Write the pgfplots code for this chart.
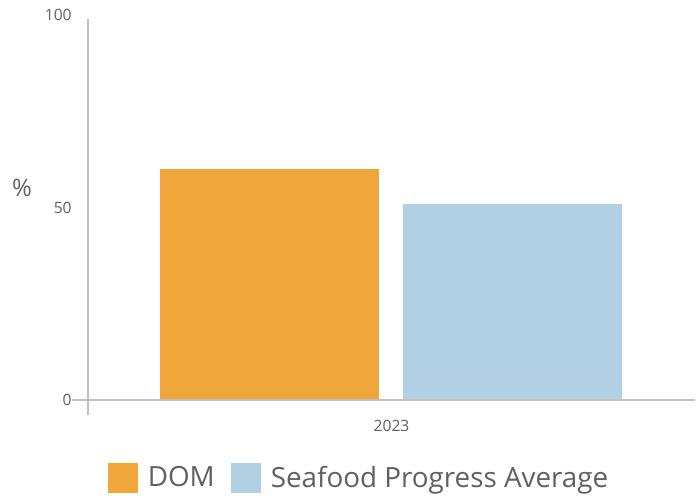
\documentclass[border=0pt]{standalone}
\usepackage{pgfplots}
\pgfplotsset{compat=1.18}
\usepackage{fontspec}
\setmainfont{Open Sans}
\definecolor{domc}{HTML}{F0A63A}
\definecolor{seac}{HTML}{B3D1E5}
\definecolor{tickc}{HTML}{606060}
\definecolor{linec}{HTML}{C0C0C0}
\begin{document}
\begin{tikzpicture}
\useasboundingbox (-44pt,-50pt) rectangle (305pt,200pt);
\begin{axis}[
  at={(0pt,0pt)}, anchor=south west,
  scale only axis, width=303.5pt, height=192.5pt,
  xmin=-1, xmax=1, ymin=0, ymax=100,
  ybar=12pt, bar width=109.5pt,
  axis line style={draw=none}, clip=false,
  xtick={0}, xticklabels={2023},
  ytick={0,50,100},
  major tick length=0pt,
  tick label style={font=\fontsize{7.8}{8}\selectfont, text=tickc},
  yticklabel style={anchor=east, inner sep=0pt, xshift=-8pt},
  xticklabel style={anchor=north, inner sep=0pt, yshift=-10pt},
  /pgf/number format/assume math mode=true,
  legend style={at={(137.5pt,-39pt)}, anchor=center, draw=none, fill=none,
    legend columns=2, font=\fontsize{13.9}{16}\selectfont, text=tickc,
    /tikz/every even column/.append style={column sep=3pt},
    nodes={inner xsep=5pt},
    inner sep=0pt},
  legend image code/.code={\fill[#1,draw=none] (0pt,-7.5pt) rectangle (15pt,7.5pt);},
  legend cell align=left,
]
\addplot[fill=domc, draw=none] coordinates {(0,60)};
\addplot[fill=seac, draw=none] coordinates {(0,51)};
\legend{DOM, Seafood Progress Average}
\draw[linec, line width=0.8pt] (axis cs:-1,-4) -- (axis cs:-1,99);
\draw[linec, line width=0.8pt] ([xshift=-8pt]axis cs:-1,0) -- (axis cs:1,0);
\node[font=\fontsize{12}{13}\selectfont, text=tickc] at ([xshift=-33pt]rel axis cs:0,0.55) {\%};
\end{axis}
\end{tikzpicture}
\end{document}
